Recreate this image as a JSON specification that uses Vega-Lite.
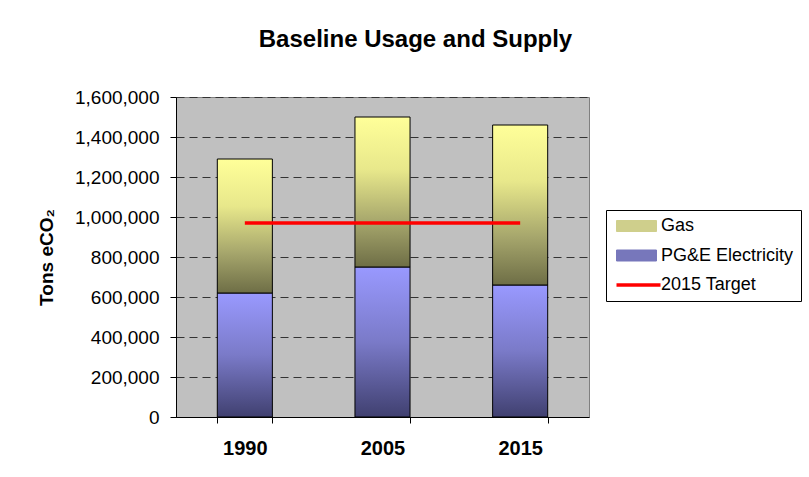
{
  "$schema": "https://vega.github.io/schema/vega-lite/v6.json",
  "width": 413,
  "height": 320,
  "autosize": {"type": "none"},
  "padding": {"left": 176, "top": 97, "right": 220, "bottom": 60},
  "background": "white",
  "title": {"text": "Baseline Usage and Supply", "fontSize": 24, "fontWeight": "bold", "anchor": "middle", "frame": "group", "baseline": "alphabetic", "offset": 17, "dx": 33, "color": "black"},
  "config": {
    "font": "Liberation Sans",
    "view": {"stroke": "#808080", "fill": "#C0C0C0", "strokeWidth": 1},
    "axisY": {
      "titleFontSize": 19, "titleFontWeight": "bold", "titleColor": "black", "titlePadding": 18,
      "labelOverlap": false, "labelFontSize": 19, "labelColor": "black", "labelPadding": 11,
      "tickSize": 6, "tickColor": "black", "domainColor": "black",
      "grid": true, "gridColor": "#333333", "gridDash": [8, 5], "gridWidth": 1
    }
  },
  "datasets": {
    "supply": [
      {"year": "1990", "series": "PG&E Electricity", "value": 620000},
      {"year": "1990", "series": "Gas", "value": 670000},
      {"year": "2005", "series": "PG&E Electricity", "value": 750000},
      {"year": "2005", "series": "Gas", "value": 750000},
      {"year": "2015", "series": "PG&E Electricity", "value": 660000},
      {"year": "2015", "series": "Gas", "value": 800000}
    ],
    "target": [
      {"year": "1990", "series": "2015 Target", "value": 970000},
      {"year": "2005", "series": "2015 Target", "value": 970000},
      {"year": "2015", "series": "2015 Target", "value": 970000}
    ]
  },
  "encoding": {
    "x": {
      "field": "year", "type": "nominal",
      "scale": {"paddingInner": 0.6, "paddingOuter": 0.3},
      "axis": {"title": null, "labelAngle": 0, "labelFontSize": 20, "labelFontWeight": "bold", "labelColor": "black", "tickBand": "extent", "tickSize": 6, "tickColor": "black", "domainColor": "black", "labelPadding": 15, "grid": false}
    }
  },
  "layer": [
    {
      "data": {"name": "supply"},
      "mark": {"type": "bar", "stroke": "black", "strokeWidth": 1},
      "encoding": {
        "y": {
          "field": "value", "type": "quantitative", "stack": "zero",
          "scale": {"domain": [0, 1600000], "nice": false},
          "axis": {
            "title": "Tons eCO₂",
            "values": [0, 200000, 400000, 600000, 800000, 1000000, 1200000, 1400000, 1600000],
            "format": ",d"
          }
        },
        "detail": {"field": "series"},
        "order": {"field": "series", "sort": "descending"},
        "color": {
          "condition": {
            "test": "datum.series === 'Gas'",
            "value": {"gradient": "linear", "x1": 0, "y1": 0, "x2": 0, "y2": 1, "stops": [
              {"offset": 0, "color": "#FFFF99"},
              {"offset": 0.35, "color": "#E8E88B"},
              {"offset": 0.7, "color": "#A6A66C"},
              {"offset": 1, "color": "#6E6E46"}
            ]}
          },
          "value": {"gradient": "linear", "x1": 0, "y1": 0, "x2": 0, "y2": 1, "stops": [
            {"offset": 0, "color": "#9999FF"},
            {"offset": 0.5, "color": "#7A7AC8"},
            {"offset": 1, "color": "#404070"}
          ]}
        }
      }
    },
    {
      "data": {"name": "target"},
      "mark": {"type": "line", "strokeWidth": 3.5},
      "encoding": {
        "y": {
          "field": "value", "type": "quantitative",
          "axis": {
            "title": "Tons eCO₂",
            "values": [0, 200000, 400000, 600000, 800000, 1000000, 1200000, 1400000, 1600000],
            "format": ",d"
          }
        },
        "color": {
          "field": "series", "type": "nominal",
          "scale": {"domain": ["Gas", "PG&E Electricity", "2015 Target"], "range": ["#CFCF8C", "#7777BB", "#FF0000"]},
          "legend": {
            "title": null, "orient": "none", "legendX": 430, "legendY": 113, "direction": "vertical",
            "fillColor": "white", "strokeColor": "black", "padding": 7,
            "labelFontSize": 18, "labelColor": "black", "labelOffset": 30, "rowPadding": 11.5,
            "symbolSize": 121, "symbolStrokeColor": "black",
            "encode": {
              "symbols": {
                "update": {
                  "shape": {"signal": "datum.value === '2015 Target' ? 'M-1,0H7' : 'M-1,-1H6.27V1H-1Z'"},
                  "fill": {"signal": "datum.value === 'Gas' ? '#CFCF8C' : (datum.value === 'PG&E Electricity' ? '#7777BB' : 'transparent')"},
                  "stroke": {"signal": "datum.value === '2015 Target' ? '#FF0000' : 'black'"},
                  "strokeWidth": {"signal": "datum.value === '2015 Target' ? 3.5 : 1"},
                  "size": {"value": 121},
                  "opacity": {"value": 1}
                }
              }
            }
          }
        }
      }
    }
  ]
}
